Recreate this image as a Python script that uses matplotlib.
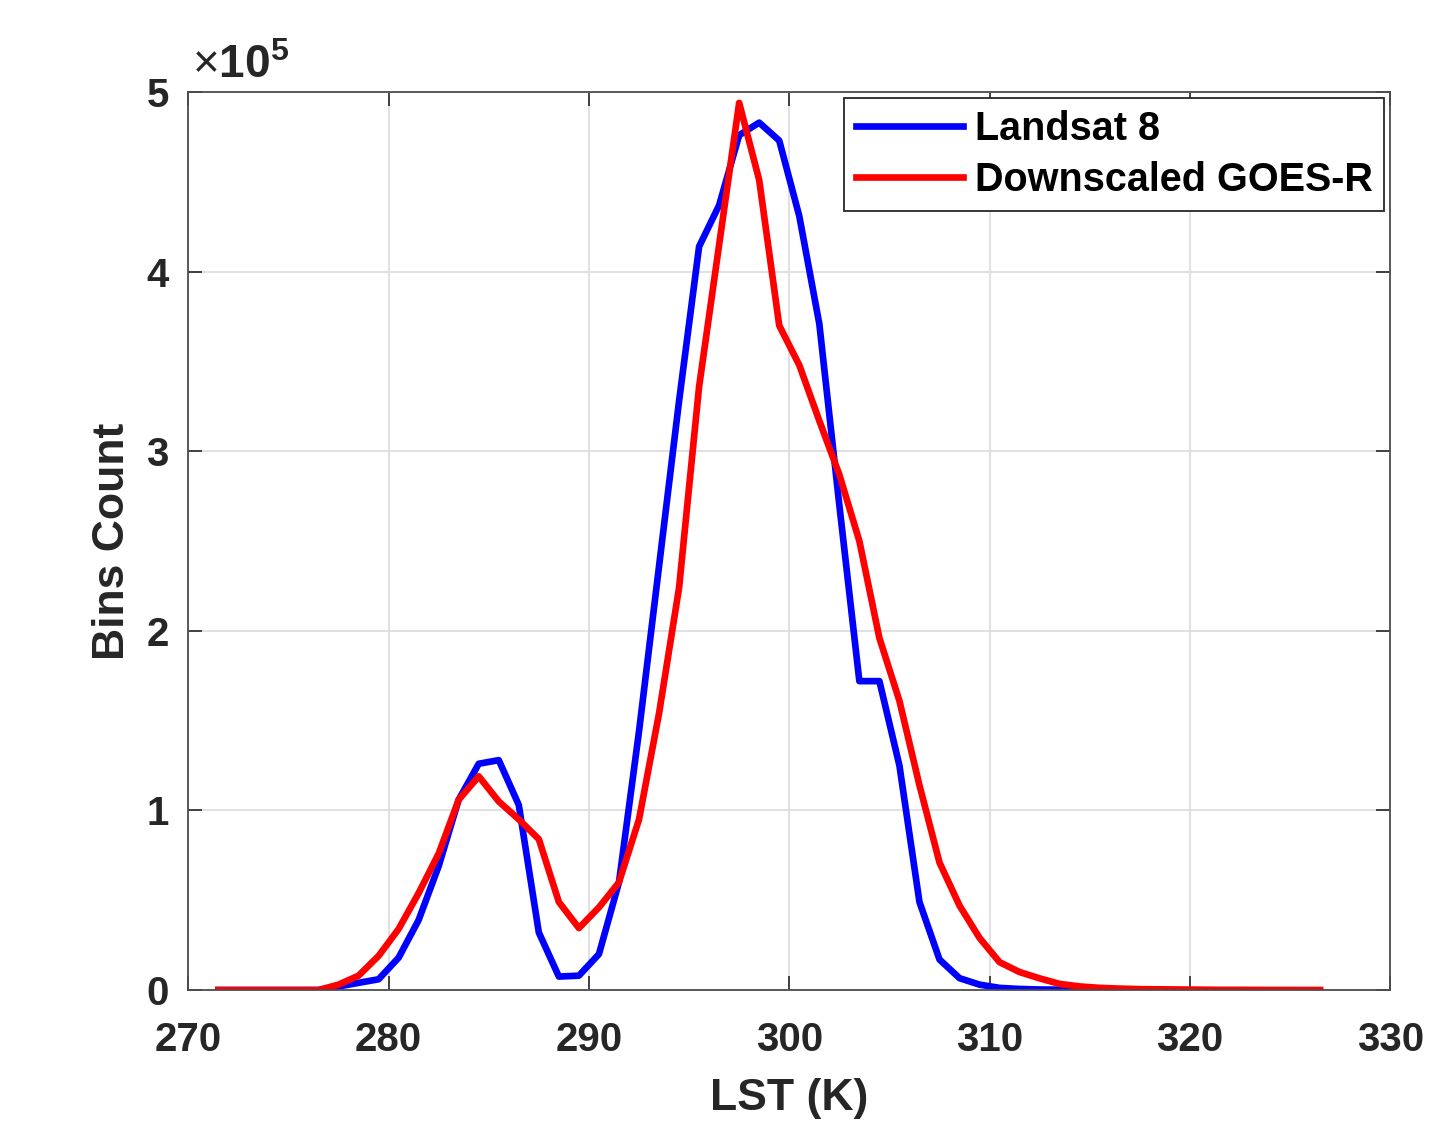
import numpy as np
import matplotlib.pyplot as plt

plt.rcParams['font.family'] = ['Liberation Sans', 'DejaVu Sans']
plt.rcParams['font.weight'] = 'bold'
plt.rcParams['mathtext.fontset'] = 'custom'
plt.rcParams['mathtext.rm'] = 'Liberation Sans:normal'
plt.rcParams['mathtext.bf'] = 'Liberation Sans:bold'

# bin centres (K)
lst_landsat = np.arange(271.5, 317.0, 1.0)
lst_goes = np.arange(271.5, 327.0, 1.0)

# bin counts in units of 1e5
landsat = [0, 0, 0, 0, 0, 0,
           0.02, 0.04, 0.06, 0.18, 0.39, 0.69, 1.06, 1.26, 1.28, 1.03,
           0.32, 0.075, 0.08, 0.20, 0.60, 1.44, 2.36, 3.28, 4.14, 4.37,
           4.76, 4.83, 4.73, 4.31, 3.71, 2.70, 1.72, 1.72, 1.25, 0.49,
           0.17, 0.066, 0.03, 0.012, 0.006, 0.003, 0.002, 0.001, 0.0005, 0.0]
goes = [0, 0, 0, 0, 0, 0,
        0.03, 0.08, 0.19, 0.34, 0.54, 0.76, 1.06, 1.19, 1.05, 0.95,
        0.84, 0.49, 0.345, 0.46, 0.60, 0.95, 1.54, 2.24, 3.36, 4.15,
        4.94, 4.51, 3.70, 3.48, 3.17, 2.87, 2.50, 1.96, 1.61, 1.14,
        0.71, 0.47, 0.29, 0.155, 0.10, 0.065, 0.034, 0.02, 0.012, 0.008,
        0.005, 0.004, 0.003, 0.002, 0.001, 0.001, 0.0005, 0.0005, 0.0003, 0.0002]

axcol = '#262626'

fig = plt.figure(figsize=(14.35, 11.23), dpi=100)
ax = fig.add_axes([0.1312, 0.1184, 0.8376, 0.7996])

ax.plot(lst_landsat, landsat, color='#0000ff', lw=4.8, label='Landsat 8')
ax.plot(lst_goes, goes, color='#ff0000', lw=4.8, label='Downscaled GOES-R')

ax.set_xlim(270, 330)
ax.set_ylim(0, 5)
ax.set_xticks(np.arange(270, 331, 10))
ax.set_yticks(np.arange(0, 6, 1))
ax.grid(True, color='#dcdcdc', lw=1.2)
ax.set_axisbelow(True)
ax.tick_params(direction='in', length=10, width=1.2, colors=axcol,
               labelsize=29, top=True, right=True)
ax.tick_params(axis='x', pad=22)
ax.tick_params(axis='y', pad=14)
for s in ax.spines.values():
    s.set_color('#4d4d4d')
    s.set_linewidth(1.3)

ax.set_xlabel('LST (K)', fontsize=32, fontweight='bold', color=axcol, labelpad=14)
ax.set_ylabel('Bins Count', fontsize=32, fontweight='bold', color=axcol, labelpad=10)

ax.text(0.003, 1.004, r'$\times\mathbf{10^{5}}$', transform=ax.transAxes,
        fontsize=33, color=axcol, ha='left', va='bottom')

leg = ax.legend(loc='upper right', fontsize=28.5, handlelength=2.7,
                borderaxespad=0.15, fancybox=False, framealpha=1,
                edgecolor='#262626', borderpad=0.3, labelspacing=0.33,
                handletextpad=0.3)
leg.get_frame().set_linewidth(1.3)
for t in leg.get_texts():
    t.set_fontweight('bold')

fig.savefig('out.png', dpi=100, facecolor='white')
